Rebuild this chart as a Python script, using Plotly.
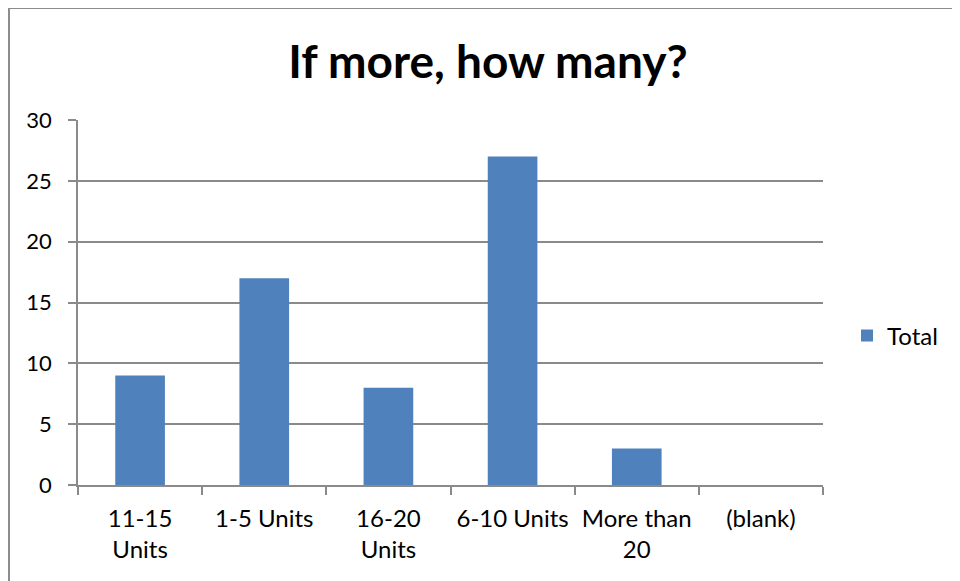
import plotly.graph_objects as go

categories = ["11-15<br>Units", "1-5 Units", "16-20<br>Units", "6-10 Units", "More than<br>20", "(blank)"]
totals = [9, 17, 8, 27, 3, 0]
y_ticks = [0, 5, 10, 15, 20, 25, 30]

FONT = "Lato, Calibri, sans-serif"
GRID = "#8a8a8a"

# the page body adds an 8px margin, so work in screen pixels and subtract it
OFF = 8
W, H = 960 - OFF, 581 - OFF
L, R, T, B = 78, 823, 120, 485


def px_x(px):
    return (px - L) / (R - L)


def px_y(py):
    return (B - py) / (B - T)


fig = go.Figure()
fig.add_trace(
    go.Bar(
        x=categories,
        y=totals,
        name="Total",
        marker=dict(color="#4F81BD", line=dict(width=0)),
        width=0.4,
    )
)

fig.update_layout(
    width=W,
    height=H,
    margin=dict(l=L - OFF, r=960 - R, t=T - OFF, b=581 - B, autoexpand=False),
    paper_bgcolor="white",
    plot_bgcolor="white",
    font=dict(family=FONT, size=24, color="black"),
    title=dict(
        text="<b>If more, how many?</b>",
        font=dict(family=FONT, size=46, color="black"),
        x=(488 - OFF) / W,
        xanchor="center",
        y=1 - (62 - OFF) / H,
        yanchor="middle",
        xref="container",
        yref="container",
    ),
    showlegend=True,
    legend=dict(
        x=px_x(847),
        y=px_y(336),
        xanchor="left",
        yanchor="middle",
        font=dict(family=FONT, size=24),
        bgcolor="rgba(0,0,0,0)",
    ),
    bargap=0.6,
)

fig.update_xaxes(
    type="category",
    showline=True,
    linecolor=GRID,
    linewidth=1.5,
    ticks="outside",
    tickson="boundaries",
    ticklen=8,
    tickwidth=1.5,
    tickcolor=GRID,
    showgrid=False,
    tickfont=dict(family=FONT, size=24),
    ticklabelstandoff=11,
)
fig.update_yaxes(
    range=[0, 30],
    tickvals=y_ticks,
    showline=True,
    linecolor=GRID,
    linewidth=1.5,
    ticks="outside",
    ticklen=8,
    tickwidth=1.5,
    tickcolor=GRID,
    showgrid=True,
    gridcolor=GRID,
    gridwidth=1.5,
    zeroline=False,
    tickfont=dict(family=FONT, size=22),
    ticklabelstandoff=12,
)

# chart frame, running off the right and bottom edges like the reference
fig.add_shape(
    type="rect",
    xref="paper",
    yref="paper",
    x0=px_x(9),
    x1=px_x(975),
    y0=px_y(600),
    y1=px_y(8),
    line=dict(color="#8c8c8c", width=2),
    fillcolor="rgba(0,0,0,0)",
    layer="above",
)

fig.write_html("out.html")
